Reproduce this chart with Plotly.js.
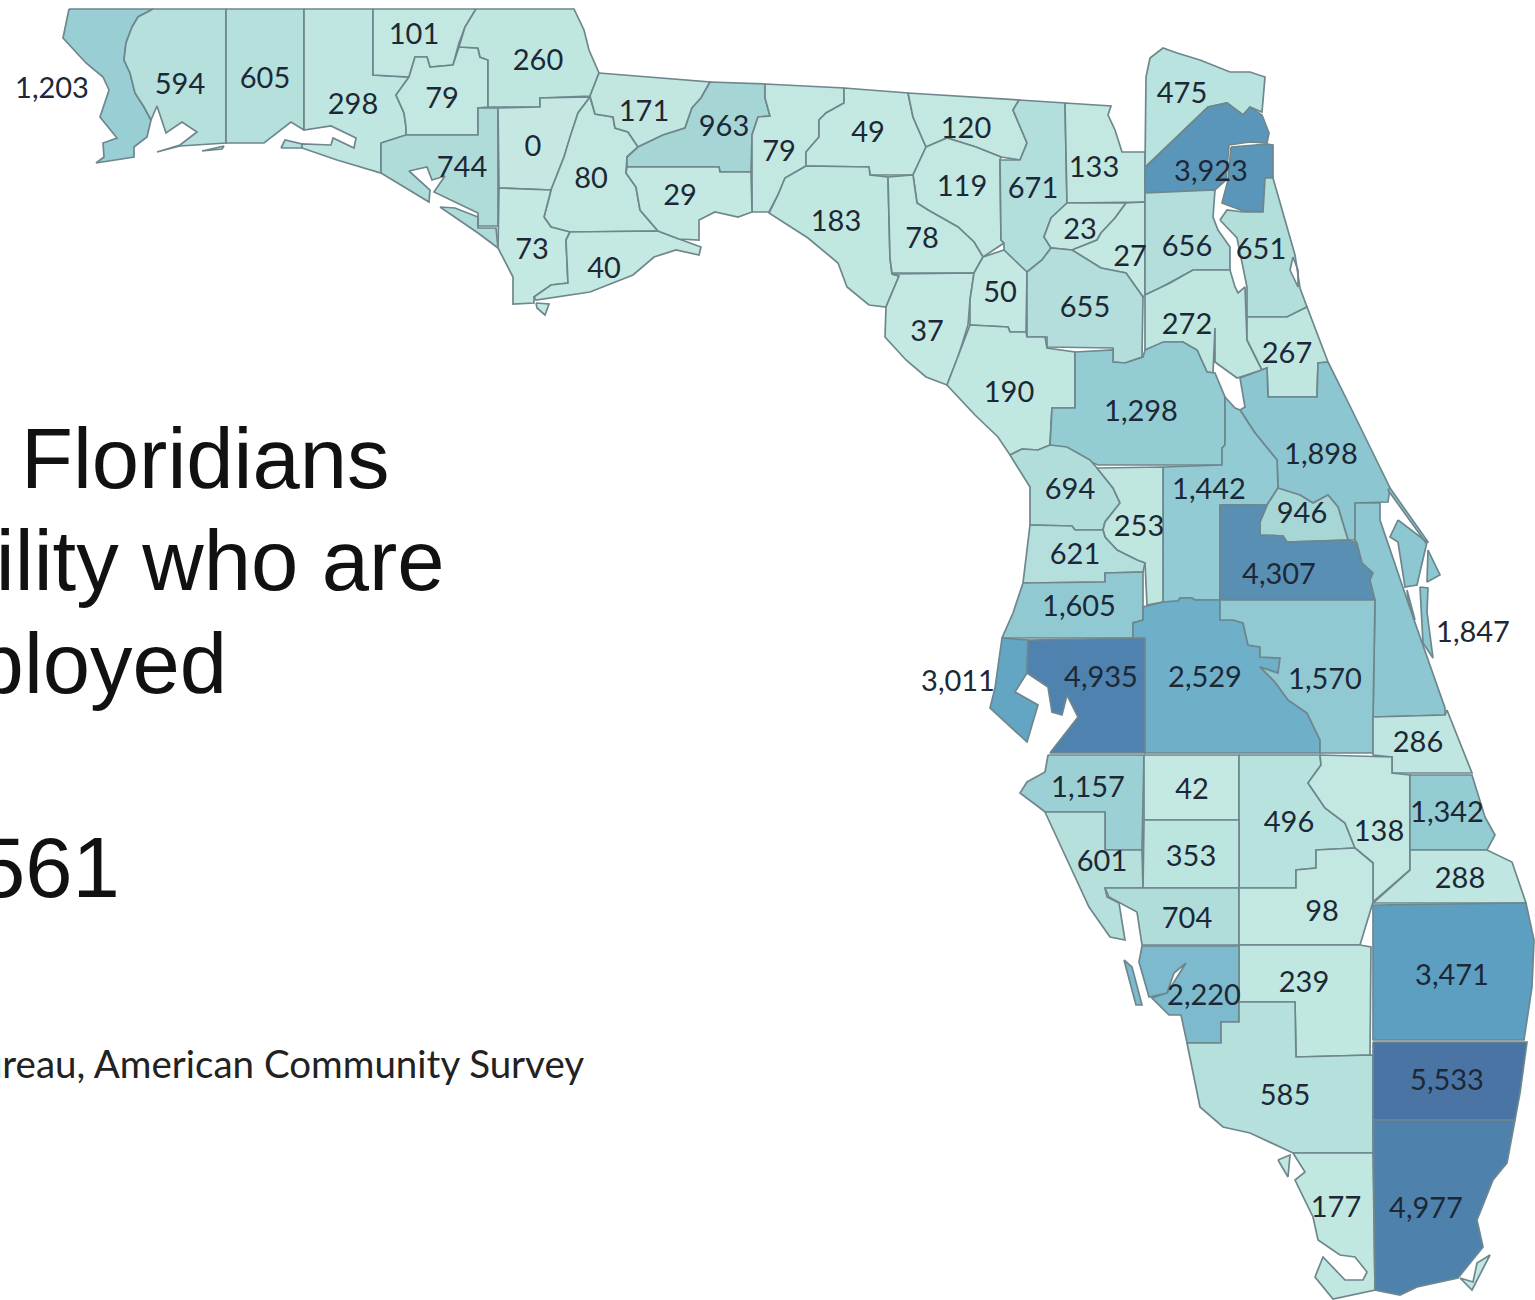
<!DOCTYPE html>
<html>
<head>
<meta charset="utf-8">
<script src="https://cdn.plot.ly/plotly-3.0.1.min.js"></script>
<style>html,body{margin:0;padding:0;background:#fff;overflow:hidden}</style>
</head>
<body>
<div id="chart" style="width:1535px;height:1300px"></div>
<script>
const countyNames = ["Escambia","Santa Rosa","Okaloosa","Walton","Holmes","Washington","Jackson","Bay","Calhoun","Liberty","Gulf","Franklin","Gadsden","Leon","Jefferson","Wakulla","Madison","Hamilton","Suwannee","Columbia","Baker","Taylor","Lafayette","Union","Bradford","Dixie","Gilchrist","Alachua","Nassau","Duval","Clay","St. Johns","Putnam","Flagler","Levy","Marion","Volusia","Citrus","Lake","Seminole","Sumter","Hernando","Orange","Pasco","Brevard","Pinellas","Hillsborough","Polk","Osceola","Indian River","Manatee","Hardee","Highlands","Okeechobee","St. Lucie","Sarasota","DeSoto","Martin","Charlotte","Glades","Palm Beach","Hendry","Lee","Collier","Broward","Monroe","Miami-Dade"];
const countyValues = [1203,594,605,298,101,79,260,744,0,80,73,40,171,963,79,29,49,120,119,671,133,183,78,23,27,37,50,655,475,3923,656,651,272,267,190,1298,1898,694,1442,946,253,621,4307,1605,1847,3011,4935,2529,1570,286,1157,42,496,138,1342,601,353,288,704,98,3471,239,2220,585,5533,177,4977];
const labelX = [52,180,265,353,414,442,538,462,533,591,532,604,644,724,779,680,868,966,962,1033,1094,836,922,1080,1130,927,1000,1085,1182,1211,1187,1261,1187,1287,1009,1141,1321,1070,1209,1302,1139,1075,1279,1079,1473,958,1101,1205,1325,1418,1088,1192,1289,1379,1447,1102,1191,1460,1187,1322,1452,1304,1204,1285,1447,1336,1426];
const labelY = [91,87,81,107,37,101,63,170,149,181,252,271,114,129,154,198,135,131,189,191,170,224,241,232,259,334,295,310,96,174,249,252,327,356,395,414,457,492,492,516,529,557,577,609,635,684,680,680,682,745,790,792,825,834,815,864,859,881,921,914,978,985,998,1098,1083,1210,1211];
const stopValues = [0,300,600,963,1300,1900,2500,3000,3471,3923,4307,4935,5533];
const stopColors = ["#c5e9e2","#bfe6e0","#b5e0dc","#a5d6d5","#94ccd3","#8cc6d1","#6fb0c9","#62a6c4","#5c9fc0","#5a96b9","#5a8fb4","#4f82ae","#4a74a3"];
const countyOutlines = [
"69,9 153,9 138,17 132,27 126,43 124,60 130,73 135,93 144,107 151,120 147,137 134,147 134,157 96,163 104,157 103,143 117,138 100,117 109,90 103,77 86,63 63,38",
"153,9 226,9 226,143 180,146 157,152 180,145 197,132 182,122 166,133 157,106 151,120 144,107 135,93 130,73 124,60 126,43 132,27 138,17;202,151 224,146 222,149",
"226,9 304,9 304,130 291,122 264,143 226,143;281,148 285,140 302,144 302,148",
"304,9 373,9 373,75 409,77 396,95 404,113 406,127 406,135 381,143 381,173 337,160 314,152 302,148 302,144 331,145 333,138 354,148 356,138 331,126 304,130",
"373,9 476,9 465,27 459,43 453,65 430,67 427,57 415,57 409,77 373,75",
"409,77 415,57 427,57 430,67 453,65 459,47 478,48 480,57 488,60 488,107 478,108 478,135 406,135 406,127 404,113 396,95",
"476,9 574,9 584,30 589,50 599,73 590,96 540,98 540,107 488,107 488,60 480,57 478,48 459,47 465,27",
"381,143 406,135 478,135 478,108 498,108 498,226 478,226 478,213 434,192 445,176 432,180 427,167 409,171 430,190 429,202 381,173;440,207 455,208 478,217 478,228 496,228 498,248 478,233 455,217",
"498,108 540,107 540,98 590,97 578,113 570,137 564,157 551,190 499,188",
"590,97 595,114 613,117 615,128 628,132 638,147 627,157 626,173 636,187 640,210 658,231 570,232 551,227 544,217 551,190 564,157 570,137 578,113",
"499,188 551,190 544,217 551,227 570,232 566,240 568,283 551,285 534,297 534,303 513,304 513,277 498,248;536,303 549,304 545,315 537,308",
"570,232 658,231 679,239 701,247 699,255 676,250 654,257 633,275 590,292 570,295 536,300 534,297 551,285 568,283 566,240",
"599,73 710,82 701,98 692,108 685,128 663,135 638,147 628,132 615,128 613,117 595,114 590,96",
"710,82 765,84 765,98 770,116 758,117 752,135 751,172 720,172 719,167 627,167 627,157 638,147 663,135 685,128 692,108 701,98",
"765,84 844,88 844,103 826,113 819,120 819,137 806,152 806,166 785,178 778,195 769,212 752,212 752,135 758,117 770,116 765,98",
"627,167 719,167 720,172 751,172 752,212 738,217 715,212 699,220 699,240 679,239 658,231 640,210 636,187 626,173",
"844,88 908,93 913,117 926,147 913,175 870,175 869,167 806,166 806,152 819,137 819,120 826,113 844,103",
"908,93 1019,100 1013,110 1027,143 1020,160 1001,157 976,147 947,138 926,147 913,117",
"926,147 947,138 976,147 1001,157 1000,160 1001,240 1004,243 983,257 974,242 958,227 928,210 917,203 913,175",
"1019,100 1065,103 1067,203 1051,218 1044,237 1051,248 1042,260 1027,272 1017,267 1004,250 1004,243 1001,240 1000,160 1020,160 1027,143 1013,110",
"1065,103 1111,106 1108,115 1115,130 1122,152 1145,152 1145,202 1067,203",
"806,166 869,167 870,175 888,177 890,258 892,274 899,276 886,307 869,305 847,287 838,263 808,238 769,213 778,195 785,178",
"888,177 913,175 917,203 928,210 958,227 974,242 983,257 974,273 892,273 890,258",
"1067,203 1126,203 1115,218 1101,233 1097,240 1072,250 1051,248 1044,237 1051,218",
"1126,203 1145,202 1145,295 1143,297 1126,273 1101,268 1072,250 1097,240 1101,233 1115,218",
"892,274 974,273 970,300 968,325 958,357 947,385 926,377 906,360 885,337 886,307 899,276",
"983,257 1004,250 1027,272 1026,332 1010,332 1008,327 970,325 970,300 974,273",
"1027,272 1042,260 1051,248 1072,250 1101,268 1126,273 1143,297 1142,357 1125,363 1113,362 1113,348 1047,347 1047,337 1027,337",
"1145,167 1146,77 1150,58 1163,48 1177,53 1200,60 1230,72 1250,72 1265,77 1262,112 1250,107 1243,115 1227,103 1208,107",
"1145,168 1208,107 1227,103 1243,115 1250,107 1262,115 1269,133 1267,143 1250,142 1229,145 1226,180 1215,190 1145,193;1231,147 1267,144 1273,145 1273,178 1265,178 1263,212 1243,211 1222,203 1228,180",
"1145,193 1215,190 1213,217 1218,230 1230,247 1230,270 1193,270 1170,283 1160,288 1145,295",
"1220,220 1227,210 1243,212 1263,212 1265,178 1273,178 1285,220 1295,255 1300,288 1307,307 1287,317 1247,317 1247,287 1237,238;1293,257 1290,270 1298,287 1298,270",
"1145,295 1170,283 1193,270 1230,270 1235,287 1238,293 1245,287 1247,340 1262,370 1237,378 1215,362 1215,328 1213,373 1207,372 1197,350 1183,342 1165,342 1145,350",
"1247,317 1287,317 1307,307 1328,362 1318,363 1317,397 1268,397 1267,368 1262,370 1247,340",
"970,325 1008,327 1010,332 1026,332 1027,337 1045,337 1047,348 1075,352 1075,408 1052,408 1050,445 1038,450 1022,449 1010,455 998,437 975,415 947,385 958,357",
"1075,352 1113,350 1113,362 1125,363 1143,357 1145,350 1163,342 1183,342 1197,350 1207,372 1215,373 1225,397 1225,445 1222,448 1222,465 1098,465 1050,445 1052,408 1075,408",
"1328,362 1318,363 1317,397 1268,397 1267,368 1240,378 1245,407 1240,410 1255,433 1277,460 1278,490 1300,495 1313,503 1328,495 1338,507 1348,540 1355,540 1355,503 1388,502 1390,488 1347,400",
"1010,455 1022,449 1038,450 1050,445 1067,447 1090,460 1097,468 1113,488 1120,503 1105,522 1103,530 1075,530 1072,526 1030,525 1030,487",
"1163,467 1222,465 1222,448 1225,445 1225,397 1235,408 1240,410 1255,433 1277,460 1278,488 1267,505 1220,505 1220,600 1195,600 1192,598 1180,598 1178,601 1163,602",
"1267,505 1278,488 1300,495 1313,503 1328,495 1338,507 1348,540 1287,542 1283,536 1260,535 1260,522",
"1097,468 1163,467 1163,602 1147,605 1145,563 1137,560 1117,550 1105,537 1103,530 1105,522 1120,503 1113,488",
"1030,525 1072,526 1075,530 1103,530 1105,537 1117,550 1137,560 1145,563 1143,572 1105,573 1105,582 1023,583",
"1220,505 1267,505 1260,522 1260,535 1283,536 1287,542 1348,540 1357,543 1362,563 1373,573 1370,580 1375,600 1220,600",
"1023,583 1105,582 1105,573 1143,572 1143,620 1133,623 1133,638 1002,638 1013,613",
"1355,503 1380,503 1380,520 1413,617 1445,708 1445,715 1373,717 1375,600 1370,580 1373,573 1362,563 1357,543 1355,540;1390,488 1428,542 1426,543 1388,490;1398,520 1427,542 1417,585 1405,587 1398,542 1390,537;1428,550 1440,575 1427,582;1420,587 1428,588 1427,612 1433,658 1423,643;1407,590 1415,620 1408,600",
"1002,638 1028,640 1027,673 1015,692 1038,705 1027,742 990,708 995,688",
"1028,640 1145,638 1145,753 1050,753 1078,717 1067,695 1062,715 1052,712 1048,687 1030,675 1027,673",
"1163,602 1178,601 1180,598 1192,598 1195,600 1220,600 1220,620 1233,620 1243,623 1248,645 1260,647 1260,657 1280,658 1278,673 1260,667 1275,682 1288,700 1307,713 1320,740 1320,753 1145,753 1145,638 1133,638 1133,623 1143,620 1143,607",
"1220,600 1375,600 1373,717 1373,753 1320,753 1320,740 1307,713 1288,700 1275,682 1260,667 1278,673 1280,658 1260,657 1260,647 1248,645 1243,623 1233,620 1220,620",
"1373,717 1445,715 1447,710 1459,740 1472,773 1392,773 1392,757 1373,755",
"1048,755 1144,755 1142,850 1105,850 1105,812 1045,812 1040,808 1020,793 1027,782 1045,772",
"1144,755 1239,755 1239,820 1144,820",
"1239,755 1320,755 1321,765 1308,783 1325,808 1345,823 1355,848 1316,850 1316,868 1296,870 1296,888 1239,888",
"1320,755 1392,757 1392,773 1410,775 1410,870 1373,902 1373,863 1355,848 1345,823 1325,808 1308,783 1321,765",
"1410,775 1472,775 1485,817 1495,835 1487,850 1410,850",
"1045,812 1105,812 1105,850 1142,850 1143,888 1105,888 1107,897 1119,903 1125,940 1110,937 1089,907",
"1144,820 1239,820 1239,888 1143,888",
"1410,850 1487,850 1512,862 1526,903 1373,903 1410,870",
"1105,888 1143,888 1239,888 1239,945 1142,945 1137,912 1109,897",
"1239,888 1296,888 1296,870 1316,868 1316,850 1355,848 1373,863 1373,902 1360,945 1239,945",
"1373,905 1526,903 1534,940 1532,987 1524,1040 1373,1040",
"1239,945 1360,945 1371,947 1370,1055 1296,1057 1295,1002 1239,1002",
"1142,946 1239,946 1239,1022 1221,1022 1221,1043 1187,1043 1181,1015 1169,1015 1152,998 1167,993 1186,963 1174,973 1167,993 1149,997 1139,962;1124,960 1132,967 1142,1005 1136,1005",
"1187,1043 1221,1043 1221,1022 1239,1022 1239,1002 1295,1002 1296,1057 1373,1055 1373,1153 1293,1153 1250,1133 1223,1127 1200,1107",
"1373,1042 1527,1042 1520,1093 1515,1120 1373,1120",
"1293,1153 1373,1153 1375,1290 1333,1299 1315,1277 1323,1257 1345,1280 1363,1280 1367,1272 1355,1257 1340,1255 1318,1240 1313,1217 1295,1180 1305,1172;1278,1160 1290,1155 1288,1177;1460,1278 1472,1290 1490,1255 1477,1263 1473,1282",
"1373,1120 1515,1120 1507,1163 1493,1180 1477,1220 1483,1247 1458,1278 1417,1287 1400,1295 1375,1290"
];
const panelLines = ["Floridians","with a disability who are","unemployed","561"];
const panelX = [19,447,229,122];
const panelY = [458,560,663,867];
const panelAnchor = ["left","right","right","right"];
const sourceText = "Source: U.S. Census Bureau, American Community Survey";

function parseOutline(s){
  const xs=[],ys=[];
  s.split(";").forEach((part,i)=>{
    if(i){xs.push(null);ys.push(null);}
    const pts=part.trim().split(/\s+/).map(p=>p.split(",").map(Number));
    pts.concat([pts[0]]).forEach(p=>{xs.push(p[0]);ys.push(p[1]);});
  });
  return {xs,ys};
}
function mixColor(v){
  const hex=c=>[1,3,5].map(k=>parseInt(c.substr(k,2),16));
  let i=0; while(i<stopValues.length-2 && v>stopValues[i+1]) i++;
  const t=(v-stopValues[i])/(stopValues[i+1]-stopValues[i]);
  const a=hex(stopColors[i]),b=hex(stopColors[i+1]);
  return "rgb("+a.map((q,k)=>Math.round(q+(b[k]-q)*t)).join(",")+")";
}
const fmt = v => v.toLocaleString("en-US");

const traces = countyOutlines.map((o,i)=>{
  const g=parseOutline(o);
  return {type:"scatter",mode:"lines",x:g.xs,y:g.ys,fill:"toself",fillcolor:mixColor(countyValues[i]),
    line:{color:"#6e878d",width:1.7},name:countyNames[i],text:countyNames[i]+": "+fmt(countyValues[i]),hoverinfo:"text"};
});
traces.push({type:"scatter",mode:"text",x:labelX,y:labelY,text:countyValues.map(fmt),
  textposition:"middle center",textfont:{family:"Lato, sans-serif",size:29,color:"#1c2836"},hoverinfo:"skip"});

const annotations = panelLines.map((t,i)=>({x:panelX[i],y:panelY[i],xref:"x",yref:"y",text:t,showarrow:false,
  xanchor:panelAnchor[i],yanchor:"middle",font:{family:"Liberation Sans, Arial, sans-serif",size:85,color:"#111"}}));
annotations.push({x:586,y:1063,xref:"x",yref:"y",text:sourceText,showarrow:false,xanchor:"right",yanchor:"middle",
  font:{family:"Lato, sans-serif",size:38.5,color:"#222"}});

Plotly.newPlot("chart",traces,{
  width:1535,height:1300,margin:{l:0,r:0,t:0,b:0},paper_bgcolor:"#fff",plot_bgcolor:"#fff",showlegend:false,hovermode:"closest",
  xaxis:{range:[0,1535],visible:false,fixedrange:true},
  yaxis:{range:[1300,0],visible:false,fixedrange:true},
  annotations
},{displayModeBar:false});
</script>
</body>
</html>
